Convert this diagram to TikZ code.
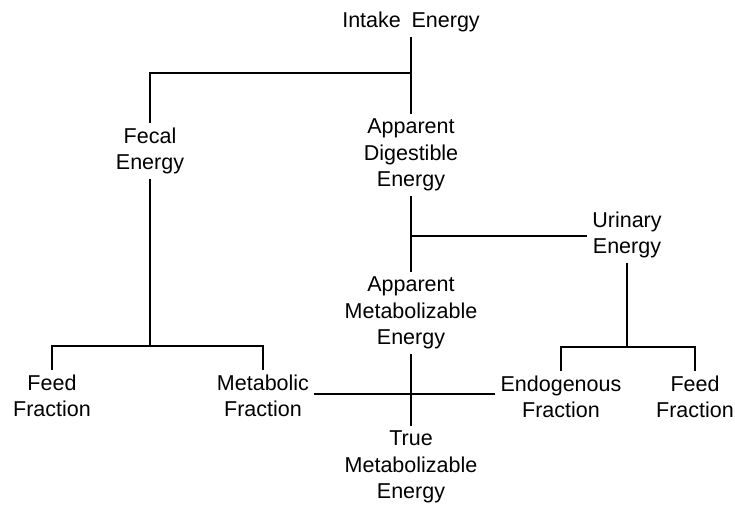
\documentclass[tikz,border=0pt]{standalone}
\usepackage{fontspec}
\setmainfont{Liberation Sans}
\tikzset{%
  quantity/.style = {align=center, inner sep=5pt,%
                     font=\fontsize{21.5}{26.5}\selectfont},%
  link/.style     = {line width=1.9pt}%
}

\begin{document}
\begin{tikzpicture}[x=1pt,y=-1pt]
	\useasboundingbox (0,0) rectangle (735,505);
		\node [quantity] (intake)  at (411,22)  {Intake\enspace Energy};
		\node [quantity] (fecal)   at (150,151) {Fecal\\Energy};
		\node [quantity] (ade)     at (411,155) {Apparent\\Digestible\\Energy};
		\node [quantity] (urinary) at (627,235) {Urinary\\Energy};
		\node [quantity] (ame)     at (411,313) {Apparent\\Metabolizable\\Energy};
		\node [quantity] (feedl)   at (52,396)  {Feed\\Fraction};
		\node [quantity] (metab)   at (263,396) {Metabolic\\Fraction};
		\node [quantity] (endog)   at (561,397) {Endogenous\\Fraction};
		\node [quantity] (feedr)   at (695,397) {Feed\\Fraction};
		\node [quantity] (tme)     at (411,467) {True\\Metabolizable\\Energy};
		% junctions
		\coordinate (split)  at (411,73);
		\coordinate (urine)  at (411,236);
		\coordinate (cross)  at (411,394);
		\coordinate (fsplit) at (150,346);
		\coordinate (usplit) at (627,347);
		% connectors
		\draw [link] (intake.south) -- (ade.north);
		\draw [link] (fecal.north) |- (split);
		\draw [link] (ade.south) -- (ame.north);
		\draw [link] (urine) -- (urinary.west |- urine);
		\draw [link] (ame.south) -- (tme.north);
		\draw [link] (metab.east |- cross) -- (endog.west |- cross);
		\draw [link] (fecal.south) -- (fsplit);
		\draw [link] (feedl.north) |- (fsplit) -| (metab.north);
		\draw [link] (urinary.south) -- (usplit);
		\draw [link] (endog.north) |- (usplit) -| (feedr.north);
	\end{tikzpicture}
\end{document}
